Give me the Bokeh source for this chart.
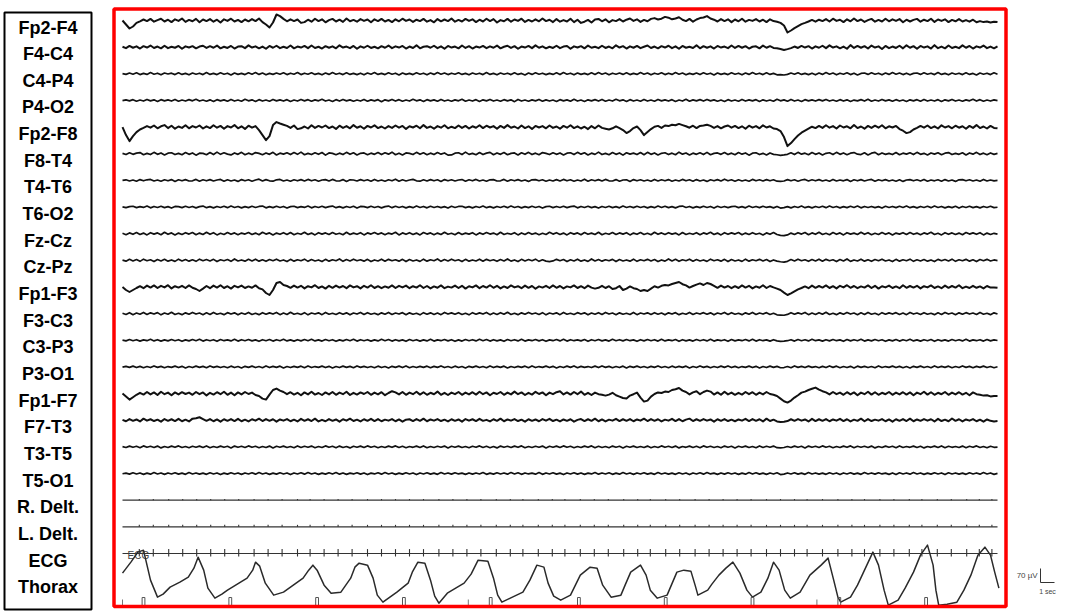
import numpy as np
from bokeh.plotting import figure
from bokeh.models import Range1d
from bokeh.core.properties import value
from bokeh.embed import file_html
from bokeh.resources import INLINE

# ---------------- data ----------------
channels = ["Fp2-F4", "F4-C4", "C4-P4", "P4-O2", "Fp2-F8", "F8-T4", "T4-T6", "T6-O2",
            "Fz-Cz", "Cz-Pz", "Fp1-F3", "F3-C3", "C3-P3", "P3-O1", "Fp1-F7", "F7-T3",
            "T3-T5", "T5-O1", "R. Delt.", "L. Delt.", "ECG", "Thorax"]

T_END = 62.5  # seconds on the page; EEG samples every 0.25 s

# EEG channels, microvolts
fp2_f4 = [0,-20,-40,-30,-12,-4,5,-3,8,-6,2,9,-5,4,-8,6,-2,10,-7,3,-4,8,-9,5,-3,
          7,-6,4,-10,6,-2,9,-5,3,-8,5,-4,7,-3,10,-8,-20,-35,-10,30,22,8,-4,6,-3,
          5,-12,-8,4,-6,9,-3,6,-9,2,8,-5,4,-7,10,-4,3,-6,7,-2,5,-9,6,-3,8,
          -5,3,-8,6,-4,9,-2,5,-7,4,-3,8,-6,2,-9,7,-4,5,-3,10,-6,3,-5,8,-2,
          6,-8,4,-5,9,-3,7,-10,2,-4,8,-6,5,-2,9,-7,3,-5,6,-4,10,-3,4,-8,7,
          -6,2,-5,9,-8,4,-12,-6,3,-10,5,8,-4,6,-9,2,-3,7,-5,4,10,-2,6,-7,3,
          -4,8,12,5,9,18,14,6,10,16,4,-3,8,-6,5,12,15,22,10,4,-5,7,-3,6,-8,
          5,-4,9,-6,3,-2,7,-5,4,-8,6,-3,-6,-12,-25,-60,-50,-38,-28,-18,-12,-5,3,-6,4,
          -3,7,-5,9,-2,4,-8,6,-4,10,-3,5,-7,2,8,-6,3,-5,9,-4,6,-2,7,-9,4,
          -5,3,8,-6,4,-3,9,-7,5,-2,6,-8,3,-4,7,-5,2,-6,4,-9,-3,-8,-5,-10,-6,
          -8]
f4_c4 = [2,-5,6,-3,4,-7,5,-2,8,-4,3,-6,7,-5,2,-3,6,-8,4,-2,5,-6,3,7,-4,
         5,-3,8,-6,2,-4,6,-7,3,5,-5,9,-2,4,-6,3,-8,6,-3,7,-5,2,-4,8,-6,
         3,-2,6,-5,8,-4,2,-7,5,-3,4,-6,9,-2,3,-5,6,-8,4,-3,7,-4,2,-6,5,
         -3,8,-5,4,-2,6,-7,3,-4,9,-6,2,5,-3,7,-5,4,-8,6,-2,3,-6,8,-4,5,
         -7,3,-2,6,-5,4,-3,8,-6,2,7,-4,5,-8,3,-2,6,-5,9,-3,4,-6,2,-4,7,
         -5,3,6,-8,4,-2,5,-6,8,-3,2,-5,7,-4,3,-6,9,-2,5,-7,4,-3,6,-5,2,
         8,-4,3,-6,5,-2,7,-5,4,-8,6,-3,2,-4,9,-6,5,-3,4,-7,6,-2,3,-5,8,
         -4,6,-3,5,-7,2,4,-6,8,-3,5,-4,-6,-9,-14,-10,-5,3,-4,6,-2,5,-7,4,-3,
         7,-5,9,-2,4,-6,3,-8,10,-4,6,-3,5,-7,8,-2,4,-9,6,-5,3,-4,7,-6,9,
         -3,5,-8,6,-2,4,-7,10,-5,3,-6,8,-4,2,-5,9,-3,6,-7,4,-2,8,-5,3,-6,
         4]
c4_p4 = [1,-3,4,-2,5,-4,2,-3,6,-2,3,-5,4,-1,3,-4,5,-3,2,-5,4,-2,3,-4,6,
         -3,2,-4,5,-2,3,-6,4,-3,2,-4,5,-2,6,-3,4,-5,2,-3,4,-2,5,-4,3,-2,
         6,-4,3,-2,5,-3,2,-5,4,-3,6,-2,3,-4,5,-3,2,-4,3,-5,4,-2,6,-3,2,
         -4,5,-2,3,-6,4,-3,2,-4,5,-2,3,-5,4,-3,6,-2,4,-4,3,-2,5,-3,2,-5,
         4,-2,3,-4,6,-3,2,-5,4,-2,3,-4,5,-3,2,-6,4,-3,5,-2,3,-4,2,-3,5,
         -4,6,-2,3,-5,4,-3,2,-4,5,-3,6,-2,4,-5,3,-2,4,-3,5,-4,2,-3,6,-2,
         4,-5,3,-2,5,-4,3,-3,6,-2,4,-5,2,-3,4,-4,5,-2,3,-6,4,-3,2,-4,5,
         -2,3,-5,4,-3,6,-2,3,-4,5,-3,2,-5,-4,-6,-3,4,-2,5,-3,2,-4,3,-5,4,
         -3,6,-2,4,-5,3,-2,5,-4,3,-6,2,4,-3,5,-2,3,-5,4,-3,6,-2,4,-4,3,
         -5,2,4,-3,5,-2,3,-4,6,-3,2,-5,4,-2,3,-4,5,-3,2,-6,4,-2,3,-4,5,
         -2]
p4_o2 = [-1,3,-2,4,-4,2,-3,5,-2,3,-5,4,-2,3,-3,5,-4,2,-3,4,-2,6,-3,2,-4,
         3,-5,4,-2,3,-4,5,-3,2,-4,6,-2,3,-5,4,-3,2,-4,5,-2,3,-3,4,-5,2,
         -3,5,-2,4,-4,3,-2,6,-3,2,-5,4,-3,5,-2,3,-4,2,-3,5,-4,3,-2,4,-6,
         3,-2,5,-3,4,-4,2,-3,6,-2,3,-5,4,-2,3,-4,5,-3,2,-4,3,-2,6,-4,2,
         -3,4,-5,3,-2,5,-3,2,-4,4,-2,3,-6,5,-3,2,-4,3,-2,5,-4,3,-3,2,-5,
         4,-2,3,-4,6,-3,2,-5,3,-2,4,-3,5,-4,2,-3,6,-2,3,-5,4,-3,2,-4,5,
         -3,2,-4,5,-2,3,-3,4,-5,2,-3,6,-4,3,-2,4,-3,5,-2,3,-4,2,-5,4,-3,
         2,-4,5,-3,3,-2,4,-5,3,-3,2,-4,6,-2,3,-4,5,-3,2,-5,4,-2,3,-3,4,
         -2,5,-3,2,-4,4,-3,3,-5,2,-2,4,-3,6,-4,2,-3,5,-2,3,-4,4,-3,2,-5,
         3,-2,4,-4,5,-3,2,-3,4,-5,3,-2,5,-3,2,-4,3,-2,6,-3,4,-4,2,-3,3,
         -1]
fp2_f8 = [0,-40,-70,-45,-25,-12,-4,5,-3,8,-6,4,10,-5,7,-8,3,-4,9,-6,5,-2,8,-7,4,
          -5,9,-3,6,-8,5,-2,10,-6,4,-9,7,-3,5,-15,-40,-65,-45,10,25,18,12,6,-4,8,
          -10,-6,3,-7,9,-4,6,-2,8,-5,3,-9,7,-4,5,-6,10,-3,4,-8,6,-2,9,-5,3,
          -7,5,-4,8,-3,6,-9,4,-2,7,-6,10,-4,3,-8,5,-3,9,-6,2,-5,8,-4,6,-7,
          4,-3,9,-5,7,-2,5,-8,6,-4,10,-3,3,-7,8,-5,4,-9,6,-2,5,-6,8,-4,3,
          -8,6,-3,9,-5,4,-7,2,-10,5,-6,8,-4,-8,-12,-6,4,-5,-15,-30,-20,-5,3,-15,-40,
          -25,-10,2,6,-4,8,5,12,9,16,10,4,-3,7,-5,6,8,12,6,-4,5,-6,3,8,-3,
          6,-5,4,-8,7,-3,5,-6,9,-2,4,-7,-10,-20,-50,-95,-80,-60,-42,-28,-18,-8,2,-5,6,
          -4,9,-3,5,-7,8,-2,4,-6,10,-5,3,-8,6,-4,7,-3,9,-6,4,-2,6,-10,-18,-30,
          -25,-12,-4,6,-3,8,-5,4,-7,9,-2,5,-6,7,-3,4,-8,6,-4,10,-5,3,-7,6,-4,
          -6]
f8_t4 = [2,-4,5,-3,3,6,-5,2,-4,7,-3,4,-6,3,5,-4,2,-5,6,-3,4,-7,3,2,-5,
         6,-4,8,-3,5,-2,-6,4,-3,7,-5,3,-4,6,2,-5,4,-3,7,-6,3,-2,5,-4,6,
         -3,8,-5,2,-4,5,-3,6,-7,4,2,-5,3,-4,7,-3,5,-6,2,4,-5,3,-3,6,-4,
         5,-2,8,-5,3,-6,4,2,-4,7,-3,5,-5,3,-4,6,-2,4,-7,-6,3,5,-4,8,-3,
         2,-5,6,-4,3,7,-5,4,-3,6,-5,2,4,-6,5,-3,7,-4,3,-5,6,2,-4,5,-3,
         4,-6,3,5,-4,7,-2,5,-6,3,-3,8,-4,2,-5,6,-3,4,-7,5,-2,3,-4,6,-5,
         7,-3,4,-6,2,5,-4,3,-5,8,-2,4,-6,3,-3,5,-4,7,-5,2,4,-3,6,-4,3,
         -5,6,-2,4,-7,3,5,-4,2,-6,4,-3,-5,-8,-6,-3,5,-4,7,-2,3,-5,6,-3,4,
         -6,2,5,-4,7,-3,4,-5,3,6,-2,-4,5,-6,3,7,-5,4,-3,2,-4,6,-5,3,-2,
         5,-4,7,-3,2,-6,4,-2,5,-5,3,6,-4,2,-3,5,-6,4,-2,7,-4,3,-5,4,-3,
         2]
t4_t6 = [0,3,-3,2,-4,4,-2,3,5,-3,2,-4,3,-2,4,-5,3,-2,4,-3,-2,5,-4,3,-2,
         4,-3,2,5,-4,3,-3,2,-5,4,-2,3,-4,2,6,-3,4,-2,-4,3,5,-3,2,-4,3,
         -2,4,-3,5,-2,3,-4,2,4,-3,5,-2,-3,4,-5,3,2,-3,4,-2,3,-4,5,-3,2,
         -4,3,-2,6,-4,3,-3,2,5,-2,-4,3,-3,4,-2,3,-5,4,-2,3,-3,2,4,-4,3,
         -2,5,-3,2,-4,3,4,-3,-2,5,-4,3,-2,4,-3,2,-5,3,4,-2,3,-4,2,-3,4,
         -3,5,-2,3,-4,2,-3,6,-4,3,-2,4,-3,5,-2,-3,4,-4,2,3,-5,4,-2,3,-3,
         2,-4,5,-3,3,-2,4,-4,2,-3,5,-2,3,-4,4,-3,2,-5,3,-2,4,-3,6,-2,3,
         -4,3,-3,2,-4,5,-2,3,-3,4,-2,3,-4,-5,-3,4,-2,3,-4,2,5,-3,3,-2,4,
         -3,2,-4,5,-3,2,-2,4,-5,3,-2,4,-3,2,5,-4,3,-2,4,-3,2,-4,3,-5,2,
         4,-2,3,-3,5,-4,2,-2,3,-4,4,-3,2,-5,3,4,-2,3,-3,2,-4,5,-3,2,-2,
         0]
t6_o2 = [1,-3,2,4,-3,2,-2,5,-4,3,-2,4,-3,2,-5,3,2,-3,4,-2,3,-4,2,5,-3,
         2,-4,3,-2,4,-3,5,-2,3,-4,2,-3,4,-2,3,5,-4,2,-3,4,-2,3,-5,2,4,
         -3,2,-2,5,-4,3,-2,4,-3,2,5,-3,2,-4,3,-2,4,-5,3,2,-3,4,-2,3,-4,
         2,5,-3,4,-2,3,-4,2,-3,5,-2,3,-4,4,-2,3,-3,2,-5,4,-2,3,4,-3,2,
         -4,3,-2,5,-3,2,-4,3,-2,4,-3,5,-2,3,-4,2,-3,4,-2,3,-5,2,4,-3,3,
         -2,4,-3,2,5,-4,3,-2,4,-3,2,-5,3,-2,4,-3,2,-4,5,-2,3,-3,4,-2,3,
         -4,2,-3,5,-2,4,-3,2,-4,3,5,-2,3,-4,2,-3,4,-2,3,-5,4,-2,3,-3,2,
         4,-3,2,-4,5,-2,3,-3,4,-2,2,-4,3,-5,-3,2,-4,3,-2,5,-3,2,-4,3,-2,
         4,-3,5,-2,3,-4,2,-3,4,-2,5,-4,3,-2,3,-3,2,-5,4,-2,3,-3,4,-2,5,
         -3,2,-4,3,-2,4,-3,5,-2,3,-4,2,-3,4,-5,3,-2,4,-3,2,-4,3,-2,4,-3,
         -1]
fz_cz = [2,-5,4,-3,6,-4,3,-6,5,-2,4,-5,7,-3,4,-6,3,-4,5,-2,6,-5,3,-4,7,
         -3,5,-6,2,-4,6,-3,4,-5,3,-2,6,-4,3,-5,7,-2,4,-6,3,-3,5,-4,6,-5,
         2,-3,7,-4,3,-6,5,-2,4,-4,6,-3,2,-5,7,-4,3,-3,5,-6,4,-2,6,-3,4,
         -5,3,-2,7,-6,4,-3,5,-4,3,-6,6,-2,4,-5,3,-4,7,-3,2,-5,6,-4,3,-2,
         5,-6,4,-3,6,-2,3,-5,7,-4,2,-3,5,-6,4,-4,6,-3,3,-5,2,-4,7,-2,5,
         -4,3,-6,5,-2,4,-5,6,-3,3,-4,7,-5,2,-3,6,-4,4,-2,5,-6,3,-3,6,-4,
         2,-5,7,-3,4,-4,5,-2,3,-6,6,-4,2,-3,5,-5,4,-2,7,-4,3,-6,5,-3,4,
         -2,6,-5,3,-4,5,-3,2,-6,4,-3,6,-4,-8,-10,-6,3,-4,5,-2,6,-5,4,-3,7,
         -4,2,-5,6,-3,4,-6,5,-2,3,-4,7,-3,5,-5,2,-4,6,-3,4,-6,3,-2,5,-4,
         6,-3,3,-5,4,-2,7,-4,2,-6,5,-3,4,-4,3,-5,6,-2,4,-3,5,-6,3,-4,2,
         -2]
cz_pz = [1,-4,5,-3,4,-5,6,-2,3,-6,4,-3,5,-4,2,-5,6,-3,4,-4,3,-5,6,-2,4,
         -3,5,-6,3,-2,4,-5,7,-3,2,-4,5,-3,6,-4,3,-5,4,-2,6,-3,2,-6,5,-4,
         3,-2,6,-5,4,-3,2,-6,5,-4,3,-2,7,-5,4,-3,6,-2,3,-4,5,-6,2,-3,6,
         -4,5,-2,3,-4,5,-6,4,-3,2,-5,6,-4,3,-2,7,-5,4,-3,6,-2,3,-6,5,-4,
         2,-3,6,-4,5,-2,3,-5,4,-3,7,-4,2,-6,5,-3,4,-2,6,-5,3,-4,-6,-3,5,
         -2,4,-6,3,-3,6,-4,2,-5,7,-3,4,-4,3,-2,5,-6,4,-3,2,-4,6,-5,3,-2,
         5,-3,4,-6,2,-4,7,-3,5,-5,3,-2,6,-4,4,-3,2,-5,6,-2,3,-4,5,-6,4,
         -3,2,-5,6,-4,3,-2,5,-3,4,-6,2,-4,-7,-9,-5,4,-3,6,-2,3,-5,4,-3,6,
         -4,5,-2,3,-6,4,-3,7,-5,2,-3,6,-4,3,-5,4,-2,6,-3,2,-6,5,-4,3,-2,
         6,-5,3,-3,4,-4,2,-6,5,-2,4,-3,6,-5,3,-2,5,-4,3,-6,4,-2,5,-3,2,
         -1]
fp1_f3 = [0,-15,-25,-15,-5,4,-6,7,-3,8,-5,6,-2,9,-7,4,-3,6,-5,8,-4,-10,-20,-8,5,
          -6,7,-3,9,-5,4,-8,6,-2,7,-5,3,-4,8,-6,-12,-30,-40,-15,20,25,10,5,-4,7,
          -3,6,-7,4,-2,9,-5,3,-8,6,-4,7,-3,5,-6,8,-2,4,-7,6,-3,9,-5,4,-6,
          3,-4,8,-5,6,-2,7,-6,4,-3,9,-5,5,-7,3,-4,8,-6,2,-3,7,-5,6,-8,4,
          -2,8,-6,5,-3,9,-4,6,-7,3,-5,8,-2,4,-6,7,-4,5,-9,3,-3,6,-5,8,-4,
          5,-7,3,-2,8,-5,4,-6,7,-3,-8,-4,6,-5,4,-10,-6,5,-15,-8,3,-6,-10,-20,-15,
          -20,-8,4,-3,6,10,8,15,20,25,14,8,-3,5,12,18,10,20,15,6,-4,7,-3,5,-6,
          4,-5,8,-3,6,-7,3,-4,9,-5,5,-2,-8,-15,-28,-40,-32,-22,-12,-5,3,-6,7,-4,5,
          -3,8,-5,4,-7,6,-2,9,-4,5,-6,3,-3,8,-5,6,-8,4,-2,7,-5,3,-6,9,-4,
          5,-3,6,-7,4,-2,8,-5,3,-6,7,-4,5,-3,9,-6,2,-5,6,-4,3,-7,5,-3,-2,
          -4]
f3_c3 = [2,-4,5,-5,3,-3,6,-4,4,-2,5,-6,3,-3,7,-4,2,-5,4,-3,6,-2,3,-5,4,
         -4,6,-3,2,-5,5,-2,4,-6,3,-3,6,-4,2,-5,5,-3,4,-2,6,-5,3,-4,7,-3,
         2,-4,5,-6,3,-2,4,-5,6,-3,2,-4,5,-3,4,-6,3,-2,6,-4,5,-3,2,-5,4,
         -3,6,-4,3,-2,5,-5,4,-3,2,-6,5,-3,4,-4,3,-5,6,-2,4,-3,5,-4,2,-6,
         5,-3,4,-2,6,-5,3,-4,5,-3,7,-4,2,-5,4,-3,6,-2,3,-4,5,-6,3,-2,4,
         -5,6,-3,2,-4,5,-2,4,-6,3,-3,5,-4,6,-2,3,-5,4,-3,2,-4,6,-5,3,-2,
         4,-4,5,-3,3,-6,4,-2,5,-5,2,-3,6,-4,3,-2,5,-3,4,-6,3,-2,6,-4,5,
         -3,2,-5,4,-3,6,-4,3,-2,5,-4,2,-6,-7,-8,-4,5,-3,4,-2,6,-5,3,-4,5,
         -3,7,-4,2,-5,4,-3,6,-2,3,-5,4,-4,6,-3,2,-6,5,-3,4,-2,5,-4,3,-5,
         6,-2,3,-4,5,-3,2,-5,4,-4,6,-2,3,-5,4,-3,5,-2,3,-4,6,-3,2,-5,4,
         -2]
c3_p3 = [1,-3,4,-2,3,-4,2,-2,5,-3,3,-4,2,-3,4,-2,3,-5,2,-3,4,-2,5,-4,3,
         -2,3,-5,4,-2,2,-3,5,-4,3,-2,4,-3,2,-5,3,-2,4,-4,3,-2,5,-3,2,-4,
         3,-3,4,-2,5,-3,2,-4,4,-2,3,-5,2,-3,4,-2,5,-4,3,-2,3,-4,2,-3,5,
         -2,4,-4,3,-3,2,-5,4,-2,3,-4,2,-3,5,-4,2,-2,4,-3,3,-5,2,-4,4,-2,
         3,-3,5,-2,4,-4,3,-3,2,-5,4,-2,3,-3,5,-4,2,-2,4,-3,3,-5,2,-2,4,
         -3,5,-4,3,-2,2,-3,4,-5,3,-2,4,-3,2,-4,5,-2,3,-3,4,-2,2,-5,3,-3,
         4,-2,3,-4,5,-3,2,-2,4,-5,3,-3,2,-4,4,-2,3,-3,5,-4,2,-2,3,-5,4,
         -3,2,-2,4,-3,5,-4,3,-2,2,-4,3,-3,-5,-4,-2,3,-4,4,-2,3,-3,5,-2,2,
         -4,3,-3,4,-2,2,-5,4,-3,3,-2,5,-4,2,-3,4,-2,3,-5,2,-3,4,-4,3,-2,
         5,-3,2,-4,3,-2,4,-5,3,-3,2,-4,4,-2,3,-3,5,-4,2,-2,3,-4,4,-3,2,
         -1]
p3_o1 = [-1,3,-2,4,-3,3,-4,2,-3,5,-2,3,-4,2,-2,4,-3,3,-5,2,-3,4,-2,3,-4,
         5,-2,3,-3,2,-4,4,-3,2,-5,3,-2,4,-3,2,-4,5,-3,3,-2,4,-5,2,-3,3,
         -2,4,-4,5,-3,2,-2,4,-3,3,-5,2,-3,4,-2,3,-4,5,-2,3,-3,2,-4,4,-3,
         2,-5,3,-2,4,-3,5,-4,2,-3,3,-2,4,-4,3,-2,5,-3,2,-4,4,-3,2,-5,3,
         -2,4,-3,2,-4,5,-3,3,-2,4,-5,2,-3,3,-2,4,-4,5,-3,2,-2,4,-3,3,-5,
         2,-3,4,-2,5,-4,3,-2,2,-3,4,-3,5,-2,3,-4,2,-3,4,-5,3,-2,4,-3,2,
         -4,3,-2,5,-3,2,-4,4,-3,3,-2,4,-5,2,-3,5,-2,3,-4,2,-3,4,-2,5,-3,
         3,-4,2,-2,4,-3,3,-5,2,-3,4,-2,3,-4,-3,2,-4,5,-2,3,-3,4,-2,2,-4,
         3,-3,5,-2,4,-4,2,-3,3,-5,4,-2,3,-3,2,-4,5,-3,2,-2,4,-3,3,-4,2,
         -5,3,-2,4,-3,2,-4,5,-3,3,-2,4,-4,2,-3,5,-2,3,-4,3,-2,4,-3,2,-4,
         1]
fp1_f7 = [0,-15,-30,-18,-6,4,-5,8,-4,6,-7,9,-3,5,-8,6,-4,7,-2,5,-6,8,-3,6,-9,
          4,-5,7,-3,9,-6,5,-8,6,-4,8,-2,5,-7,-12,-25,-30,-5,18,25,15,8,-3,7,-5,
          4,-8,6,-4,9,-5,3,-7,6,-4,8,-6,5,-3,9,-7,4,-5,6,-2,8,-6,5,-4,7,
          -8,3,12,6,-4,8,-6,5,-3,9,-5,7,-6,4,-3,10,-6,4,-7,5,-3,8,-6,5,-4,
          7,-5,9,-3,6,-8,4,-2,8,-6,5,-4,10,-3,6,-7,4,-5,9,-2,6,-8,5,-3,7,
          12,-4,6,-5,8,-3,10,-6,4,-7,5,-3,-6,-10,-5,4,-8,-15,-22,-25,-10,-3,5,-20,-40,
          -35,-15,-2,6,3,10,8,18,22,28,15,8,-4,6,12,-3,8,15,10,-5,6,-6,9,-4,5,
          -6,4,-5,8,-3,7,-6,5,-4,8,-2,-6,-12,-25,-38,-45,-35,-20,-8,5,10,18,24,30,20,
          12,6,-4,8,-3,5,-6,7,-4,6,-8,5,-3,9,-5,7,-6,4,-3,8,-6,5,-4,7,-5,
          6,-8,5,-3,9,-5,7,-6,4,-3,8,-6,5,-4,7,-5,4,-8,6,-3,-6,-10,-8,-14,-12,
          -12]
f7_t3 = [2,-5,6,-3,4,-6,8,-2,5,-4,3,-7,6,-3,5,-4,7,-5,3,-6,8,10,15,6,-3,
         6,-5,4,-7,5,-3,6,-4,7,-5,3,-6,5,-2,8,-4,6,-3,5,-7,4,-2,6,-5,3,
         -6,7,-3,5,-4,8,-6,2,-5,6,-3,4,-7,5,-2,8,-4,3,-6,5,-3,7,-4,6,-5,
         3,-2,6,-5,4,-7,3,5,-4,6,-3,8,-5,4,-2,6,-4,3,-6,5,-3,4,-7,6,-2,
         5,-4,7,-3,2,-6,5,-3,8,-5,4,-2,6,-4,3,-7,5,-3,4,-5,6,-2,7,-4,3,
         -6,4,-3,5,-7,2,6,-4,5,-3,8,-5,4,-6,3,-2,7,-4,5,-3,6,-5,4,-2,8,
         -4,6,-3,5,-6,3,-2,7,-4,6,-5,3,8,-4,5,-3,6,-2,4,-7,5,-3,6,-4,3,
         -5,4,-2,7,-4,6,-3,5,-6,8,-4,3,-6,-9,-7,-4,5,-3,6,-2,4,-6,7,-4,5,
         -3,6,-5,4,-2,7,-4,5,-6,3,-3,8,-5,6,-4,3,-2,6,-5,4,-7,5,-3,6,-4,
         8,-5,4,-3,6,-2,5,-6,7,-4,3,-5,9,-3,5,-6,4,-2,6,-5,3,-7,4,-3,-6,
         -4]
t3_t5 = [1,-3,4,-2,3,-4,5,-2,3,-3,4,-5,2,-3,4,-2,5,-3,2,-4,3,-2,4,-3,5,
         -4,2,-3,4,-2,3,-5,4,-2,3,-3,5,-2,3,-4,2,-3,4,-5,3,-2,4,-3,2,-4,
         5,-3,3,-2,4,-4,2,-3,5,-2,3,-4,4,-3,2,-5,3,-2,4,-3,5,-2,3,-4,2,
         -3,4,-2,5,-3,3,-4,2,-2,4,-3,5,-4,2,-3,3,-2,4,-5,3,-2,4,-3,2,-4,
         3,-2,5,-3,3,-4,2,-5,4,-2,3,-3,4,-2,5,-4,2,-3,3,-2,4,-5,3,-2,4,
         -3,5,-2,3,-4,2,-3,4,-2,5,-4,3,-3,2,-4,4,-2,3,-5,3,-2,4,-3,2,-3,
         4,-4,2,-3,5,-2,3,-3,4,-5,2,-2,4,-3,3,-4,5,-2,3,-3,2,-4,4,-2,3,
         -5,3,-2,4,-3,2,-4,5,-3,3,-2,4,-4,-5,-3,2,-3,4,-2,3,-5,4,-2,3,-3,
         5,-2,3,-4,2,-3,4,-2,5,-4,3,-2,3,-3,4,-5,2,-3,4,-2,3,-4,5,-3,2,
         -2,4,-3,3,-5,2,-2,4,-3,5,-4,3,-2,2,-3,4,-4,3,-2,5,-3,2,-4,3,-2,
         -1]
t5_o1 = [-1,2,-3,4,-2,3,-4,2,-3,5,-2,3,-4,3,-2,4,-3,2,-4,5,-2,3,-3,2,-4,
         4,-2,3,-5,2,-3,4,-2,3,-4,3,-2,4,-3,5,-2,3,-4,2,-3,4,-2,3,-5,3,
         -2,4,-3,5,-2,3,-4,2,-3,4,-2,5,-3,3,-4,2,-2,4,-3,3,-5,2,-2,4,-3,
         5,-2,3,-4,2,-3,4,-2,3,-5,3,-2,4,-3,2,-4,5,-2,3,-3,4,-2,2,-4,3,
         -3,3,-2,5,-4,2,-3,4,-2,3,-3,5,-2,4,-4,3,-2,2,-3,5,-4,3,-2,4,-3,
         2,-5,3,-2,4,-3,3,-4,2,-2,5,-3,3,-2,4,-4,2,-3,5,-2,3,-4,3,-2,4,
         -3,2,-4,5,-2,3,-3,2,-4,4,-2,3,-5,3,-2,4,-3,5,-2,2,-4,3,-3,4,-2,
         3,-4,2,-3,5,-2,4,-3,2,-4,3,-2,4,-5,-3,3,-2,4,-3,2,-4,5,-2,3,-3,
         2,-4,4,-2,3,-5,3,-2,4,-3,2,-4,5,-2,3,-3,4,-2,2,-4,3,-5,4,-2,3,
         -3,5,-2,3,-4,2,-3,4,-2,3,-5,4,-2,3,-3,2,-4,4,-2,3,-3,5,-2,3,-4,
         1]

# ECG R-wave times (s) and amplitudes (uV)
ecg_beats = [1.2, 2.2, 3.3, 4.3, 5.3, 6.3, 7.3, 8.3, 9.4, 10.4, 11.4, 12.5, 13.4, 14.4, 15.4,
             16.4, 17.5, 18.5, 19.5, 20.5, 21.5, 22.6, 23.6, 24.6, 25.6, 26.7, 27.7, 28.6,
             29.7, 30.7, 31.6, 32.7, 33.7, 34.7, 35.8, 36.8, 37.7, 38.8, 39.8, 40.9, 41.9,
             42.9, 43.9, 44.9, 46.0, 47.0, 48.0, 48.9, 50.0, 51.1, 52.1, 53.0, 54.1, 55.1,
             56.2, 57.1, 58.2, 59.2, 60.3, 61.2, 62.1]
ecg_r_uv = 22
ecg_s_uv = -15
r_delt_artifact_uv = 6
l_delt_artifact_uv = 10

# Thorax respiration (s, arbitrary units)
thorax_t = [0.0, 0.6, 1.1, 1.5, 2.0, 2.5, 2.9, 3.4, 4.1, 4.7,
            5.1, 5.4, 5.8, 6.1, 6.6, 7.1, 7.5, 8.2, 8.9, 9.3,
            9.5, 9.8, 10.2, 10.8, 11.5, 12.2, 12.9, 13.3, 13.6, 13.9,
            14.4, 14.9, 15.6, 15.9, 16.3, 16.6, 16.9, 17.5, 17.9, 18.2,
            18.6, 19.1, 19.6, 20.4, 20.7, 21.1, 21.6, 22.0, 22.3, 22.6,
            23.2, 23.8, 24.4, 24.9, 25.4, 26.1, 26.5, 26.8, 27.1, 27.7,
            28.6, 29.1, 29.6, 30.1, 30.4, 30.8, 31.3, 32.0, 32.7, 33.4,
            33.9, 34.3, 34.9, 35.6, 35.9, 36.3, 37.0, 37.4, 37.7, 38.2,
            38.9, 39.6, 40.1, 40.6, 40.9, 41.1, 41.8, 42.1, 42.6, 43.1,
            43.6, 44.1, 44.6, 45.0, 45.6, 46.1, 46.5, 46.9, 47.3, 47.7,
            48.4, 49.1, 49.9, 50.4, 50.8, 51.1, 51.3, 52.0, 52.5, 52.9,
            53.6, 54.0, 54.4, 54.7, 55.4, 55.9, 56.5, 57.0, 57.5, 57.9,
            58.1, 58.3, 58.9, 59.6, 60.1, 60.6, 61.1, 61.6, 62.0, 62.3,
            62.6]
thorax_v = [7, 18, 28, 30, 0, -17, -14, -7, -2, 3,
            12, 23, 10, -8, -18, -14, -10, -4, 2, 10,
            18, 14, -3, -15, -12, -5, 2, 10, 15, 10,
            -5, -13, -12, -6, 2, 13, 17, 15, 2, -15,
            -22, -17, -12, -3, 8, 18, 17, 0, -16, -23,
            -13, -8, -3, 6, 20, 19, 2, -15, -22, -18,
            -12, 0, 15, 13, -3, -16, -20, -15, 5, 13,
            12, -5, -17, -15, -5, 8, 15, 5, -10, -18,
            -15, 8, 10, 9, -5, -15, -10, -4, 5, 12,
            18, 7, -10, -17, -12, 2, 18, 10, -10, -18,
            -12, 5, 15, 22, 0, -17, -22, -17, -5, 7,
            28, 15, -10, -25, -20, -8, 8, 25, 35, 15,
            -10, -25, -24, -22, -10, 5, 25, 33, 25, 8,
            -8]

# event markers (s)
event_box_t = [1.5, 7.7, 13.9, 20.1, 26.3, 32.6, 38.8, 45.0, 51.2, 57.4]
event_tick_t = [0.0, 24.7, 49.6]

# calibration bar
scale_uv = 70
scale_sec = 1

eeg_series = [fp2_f4, f4_c4, c4_p4, p4_o2, fp2_f8, f8_t4, t4_t6, t6_o2,
              fz_cz, cz_pz, fp1_f3, f3_c3, c3_p3, p3_o1, fp1_f7, f7_t3, t3_t5, t5_o1]
frontal_rows = {0, 1, 4, 10, 14, 15}

# ---------------- layout (page pixels) ----------------
W, H = 1065, 614
PX_PER_SEC = 14.0
X0 = 122.0          # page x of t = 0
UV_PER_PX = 5.0
THORAX_PX_PER_UNIT = 1.0
ROW0 = 20.0
ROW_STEP = 26.65
LABEL0 = 27.0


def tx(px):
    return (px - X0) / PX_PER_SEC


def row_y(i):
    return ROW0 + i * ROW_STEP


p = figure(width=W, height=H, output_backend="svg", toolbar_location=None,
           x_range=Range1d(tx(0), tx(W)), y_range=Range1d(H, 0),
           x_axis_location=None, y_axis_location=None, min_border=0)
p.grid.visible = False
p.outline_line_color = None
p.background_fill_color = "white"
p.border_fill_color = "white"

# label box
p.quad(left=[tx(4)], right=[tx(91)], top=[12], bottom=[609],
       fill_color=None, line_color="black", line_width=2)
p.text(x=[tx(47.5)] * len(channels), y=[LABEL0 + i * ROW_STEP for i in range(len(channels))],
       text=channels, text_font=value("Liberation Sans"), text_font_style="bold",
       text_font_size="18px", text_align="center", text_baseline="middle", text_color="black")

# EEG traces
for i, vals in enumerate(eeg_series):
    t = np.linspace(0, T_END, len(vals))
    y = row_y(i) - np.asarray(vals, dtype=float) / UV_PER_PX
    lw = 2.0 if i in frontal_rows else 1.7
    p.line(t, y, line_color="#111111", line_width=lw, line_join="round")

# Deltoid EMG channels with ECG artifact
beats = np.asarray(ecg_beats, dtype=float)
for i, amp in ((18, r_delt_artifact_uv), (19, l_delt_artifact_uv)):
    b = row_y(i)
    p.line([0, T_END], [b, b], line_color="#333333", line_width=1.2)
    p.segment(x0=beats, y0=[b] * len(beats), x1=beats, y1=[b - amp / UV_PER_PX] * len(beats),
              line_color="#333333", line_width=1.1)

# ECG
b = row_y(20)
p.line([0, T_END], [b, b], line_color="#333333", line_width=1.2)
p.segment(x0=beats, y0=[b - ecg_r_uv / UV_PER_PX] * len(beats), x1=beats,
          y1=[b - ecg_s_uv / UV_PER_PX] * len(beats), line_color="#333333", line_width=1.1)
p.text(x=[tx(127)], y=[b + 2], text=["ECG"], text_font=value("Liberation Sans"),
       text_font_size="10px", text_color="#444444", text_baseline="middle")

# Thorax
n = min(len(thorax_t), len(thorax_v))
b = row_y(21)
p.line(thorax_t[:n], b - np.asarray(thorax_v[:n], dtype=float) * THORAX_PX_PER_UNIT,
       line_color="#2a2a2a", line_width=1.5, line_join="round")

# event markers
ev = np.asarray(event_box_t)
p.quad(left=ev - 0.1, right=ev + 0.1, top=[597] * len(ev), bottom=[605] * len(ev),
       fill_color=None, line_color="#555555", line_width=1)
et = np.asarray(event_tick_t)
p.segment(x0=et, y0=[599] * len(et), x1=et, y1=[605] * len(et), line_color="#777777", line_width=1)

# red frame
p.quad(left=[tx(113.5)], right=[tx(1005.5)], top=[8.5], bottom=[606],
       fill_color=None, line_color="#ff0000", line_width=3.5)

# calibration bar
cx, cy = tx(1040), 582
p.line([cx, cx, cx + scale_sec], [cy - scale_uv / UV_PER_PX, cy, cy],
       line_color="#333333", line_width=1)
p.text(x=[cx - 0.2], y=[cy - 7], text=[f"{scale_uv} µV"], text_font=value("Liberation Sans"),
       text_font_size="8px", text_color="#444444", text_align="right", text_baseline="middle")
p.text(x=[cx + scale_sec / 2], y=[cy + 9], text=[f"{scale_sec} sec"],
       text_font=value("Liberation Sans"), text_font_size="7px", text_color="#444444",
       text_align="center", text_baseline="middle")

open("out.html", "w").write(file_html(p, INLINE))
